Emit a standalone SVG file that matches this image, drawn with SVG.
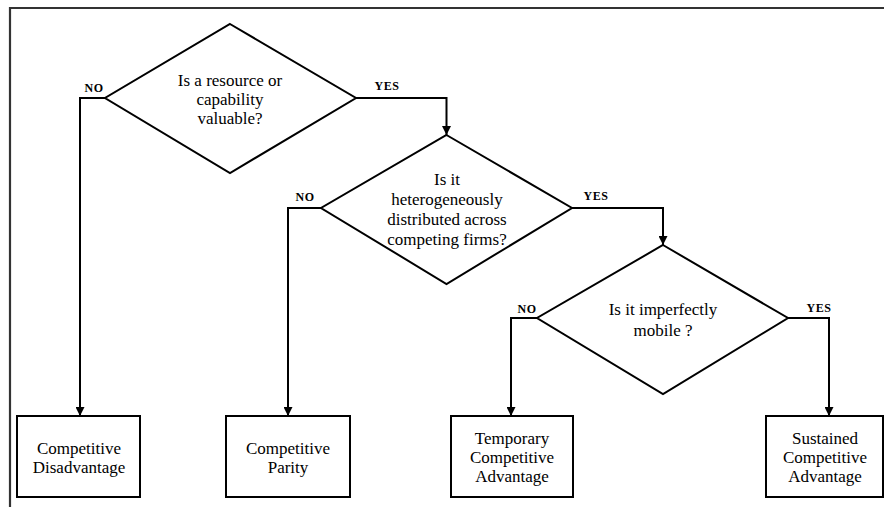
<svg xmlns="http://www.w3.org/2000/svg" width="884" height="507" viewBox="0 0 884 507">
<defs>
<marker id="ah" viewBox="0 0 10 10" refX="10" refY="5" markerWidth="4.5" markerHeight="4.5" orient="auto" markerUnits="strokeWidth">
<path d="M0,0 L10,5 L0,10 z" fill="#000"/>
</marker>
<style>
.frame{stroke:#333;stroke-width:2.2;fill:none}
.shape{fill:#fff;stroke:#000;stroke-width:2}
.conn{fill:none;stroke:#000;stroke-width:2;marker-end:url(#ah)}
.t{font-size:17px;fill:#000;text-anchor:middle}
.lb{font-size:12px;fill:#000;text-anchor:middle;font-weight:bold;letter-spacing:0.5px}
</style>
</defs>
<rect width="884" height="507" fill="#fff"/>
<g id="frame">
<path class="frame" d="M10,507 L10,8 L884,8"/>
</g>
<g font-family="Liberation Serif, DejaVu Serif, serif">
<g id="connectors">
<path class="conn" d="M105,98 L80,98 L80,416"/>
<path class="conn" d="M356,98 L446.5,98 L446.5,135"/>
<path class="conn" d="M321,208 L288,208 L288,416"/>
<path class="conn" d="M572,208 L663,208 L663,245"/>
<path class="conn" d="M537,318 L511,318 L511,416"/>
<path class="conn" d="M788,318 L829,318 L829,416"/>
<text class="lb" x="94" y="92">NO</text>
<text class="lb" x="387" y="90">YES</text>
<text class="lb" x="305" y="201">NO</text>
<text class="lb" x="596" y="200">YES</text>
<text class="lb" x="527" y="313">NO</text>
<text class="lb" x="819" y="312">YES</text>
</g>
<g id="d1">
<polygon class="shape" points="230,24 356,98 230,173 105,98"/>
<text class="t" x="230" y="86">Is a resource or</text>
<text class="t" x="230" y="105">capability</text>
<text class="t" x="230" y="124">valuable?</text>
</g>
<g id="d2">
<polygon class="shape" points="446.5,135 572,208 446.5,284 321,208"/>
<text class="t" x="447" y="185">Is it</text>
<text class="t" x="447" y="205">heterogeneously</text>
<text class="t" x="447" y="225">distributed across</text>
<text class="t" x="447" y="245">competing firms?</text>
</g>
<g id="d3">
<polygon class="shape" points="663,245 788,318 663,394 537,318"/>
<text class="t" x="663" y="315">Is it imperfectly</text>
<text class="t" x="663" y="336">mobile ?</text>
</g>
<g id="b1">
<rect class="shape" x="17" y="416" width="123" height="81"/>
<text class="t" x="79" y="454">Competitive</text>
<text class="t" x="79" y="473">Disadvantage</text>
</g>
<g id="b2">
<rect class="shape" x="226" y="416" width="124" height="81"/>
<text class="t" x="288" y="454">Competitive</text>
<text class="t" x="288" y="473">Parity</text>
</g>
<g id="b3">
<rect class="shape" x="451" y="416" width="122" height="81"/>
<text class="t" x="512" y="444">Temporary</text>
<text class="t" x="512" y="463">Competitive</text>
<text class="t" x="512" y="482">Advantage</text>
</g>
<g id="b4">
<rect class="shape" x="766" y="416" width="117" height="81"/>
<text class="t" x="825" y="444">Sustained</text>
<text class="t" x="825" y="463">Competitive</text>
<text class="t" x="825" y="482">Advantage</text>
</g>
</g>
</svg>
